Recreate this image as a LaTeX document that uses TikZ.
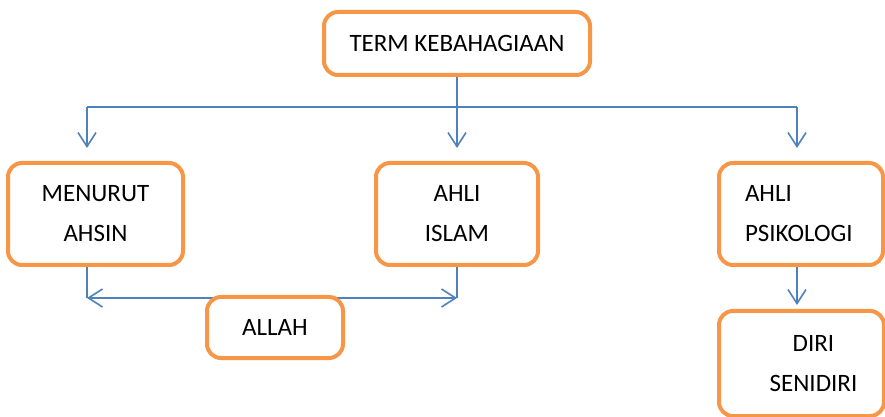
\documentclass[tikz,border=0pt]{standalone}
\usepackage{fontspec}
\setmainfont{Carlito}
\usepackage{tikz}
\usetikzlibrary{arrows.meta,backgrounds}

\definecolor{boxorange}{RGB}{247,150,70}
\definecolor{linkblue}{RGB}{79,129,189}

\tikzset{
  box/.style={draw=boxorange,line width=2pt,rounded corners=7pt,fill=white,
    font=\fontsize{12.5}{20}\selectfont,align=center,inner sep=0pt},
  link/.style={draw=linkblue,line width=0.8pt},
  arr/.style={link,-{Straight Barb[length=7pt,width=9pt,line width=0.8pt]}}
}

\begin{document}
\begin{tikzpicture}[x=0.5pt,y=-0.5pt]
  \clip (0,0) rectangle (885,417);
   \node[box,minimum width=133pt,minimum height=31.5pt] (term) at (457,43.5) {TERM KEBAHAGIAAN};
   \node[box,minimum width=87.5pt,minimum height=51pt] (menurut) at (95.5,214) {MENURUT\\AHSIN};
   \node[box,minimum width=81pt,minimum height=51pt] (islam) at (457,214) {AHLI\\ISLAM};
   \node[box,minimum width=82pt,minimum height=51pt,align=left,text width=56pt] (psikologi) at (801,214) {AHLI\\PSIKOLOGI};
   \node[box,minimum width=82.5pt,minimum height=52.5pt] (diri) at (801.5,363.5) {\hspace*{12pt}DIRI\\\hspace*{12pt}SENIDIRI};
   \node[box,minimum width=68pt,minimum height=30.5pt] (allah) at (275,327.5) {ALLAH};

   \coordinate (busL) at (87,107);
   \coordinate (busR) at (797,107);
   \coordinate (lowL) at (87,298);
   \coordinate (lowR) at (457,298);

   \begin{scope}[on background layer]
    \draw[link] (term.south) -- (term.south |- busL);
    \draw[link] (busL) -- (busR);
    \draw[arr,shorten >=6.5pt] (busL) -- (busL |- menurut.north);
    \draw[arr,shorten >=6.5pt] (term.south) -- (islam.north);
    \draw[arr,shorten >=6.5pt] (busR) -- (busR |- psikologi.north);
    \draw[arr,shorten >=2pt] (psikologi.south -| busR) -- (busR |- diri.north);
    \draw[link] (lowL |- menurut.south) -- (lowL);
    \draw[link] (islam.south) -- (lowR);
    \draw[arr,line width=1.2pt] (allah.north |- lowL) -- (lowL);
    \draw[arr,line width=1.2pt] (allah.north |- lowR) -- (lowR);
   \end{scope}
\end{tikzpicture}
\end{document}
